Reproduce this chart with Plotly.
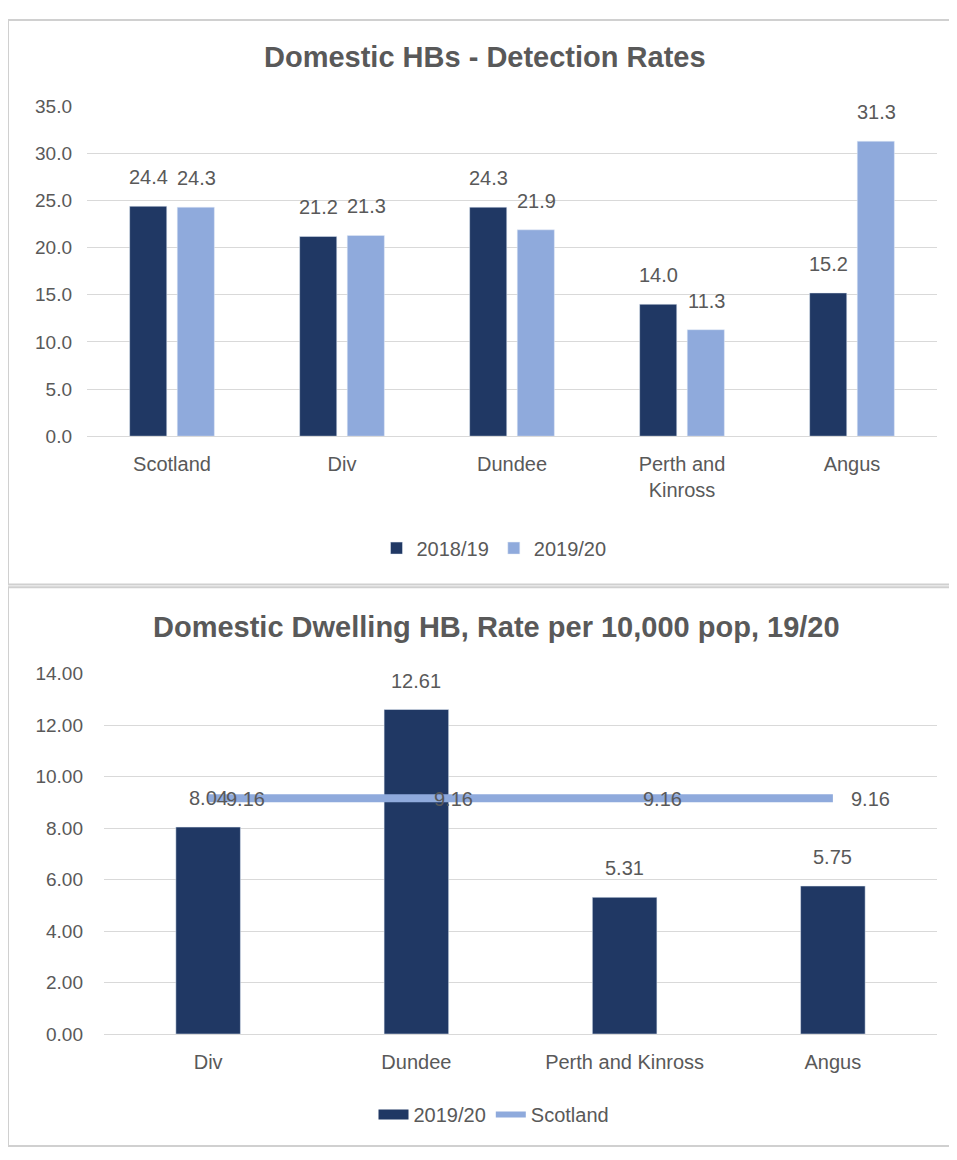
import plotly.graph_objects as go

# ---- data ----
top_categories = ["Scotland", "Div", "Dundee", "Perth and Kinross", "Angus"]
top_ticktext = ["Scotland", "Div", "Dundee", "Perth and<br>Kinross", "Angus"]
rates_1819 = [24.4, 21.2, 24.3, 14.0, 15.2]
rates_1920 = [24.3, 21.3, 21.9, 11.3, 31.3]

bot_categories = ["Div", "Dundee", "Perth and Kinross", "Angus"]
rate_per_10k = [8.04, 12.61, 5.31, 5.75]
scotland_rate = [9.16, 9.16, 9.16, 9.16]

# page body has an 8px margin, so the figure is sized to fill the window exactly
OFF = 8
W, H = 957 - 2 * OFF, 1160 - 2 * OFF
def py(p):
    return 1 - (p - OFF) / H
def px(p):
    return (p - OFF) / W

DARK = "#203864"
LIGHT = "#8FAADC"
TXT = "#595959"
GRID = "#D9D9D9"
FONT = "Liberation Sans, Arial, sans-serif"

fig = go.Figure()

fig.add_trace(go.Bar(x=top_categories, y=rates_1819, name="2018/19", marker_color=DARK,
                     xaxis="x", yaxis="y", legend="legend"))
fig.add_trace(go.Bar(x=top_categories, y=rates_1920, name="2019/20", marker_color=LIGHT,
                     xaxis="x", yaxis="y", legend="legend"))

fig.add_trace(go.Bar(x=bot_categories, y=rate_per_10k, name="2019/20", marker_color=DARK,
                     width=0.31, xaxis="x2", yaxis="y2", showlegend=False))
fig.add_trace(go.Scatter(x=bot_categories, y=scotland_rate, name="Scotland", mode="lines",
                         line=dict(color=LIGHT, width=8), xaxis="x2", yaxis="y2",
                         showlegend=False))
# legend-only entries for the lower chart
fig.add_trace(go.Scatter(x=[None], y=[None], name="2019/20", mode="lines",
                         line=dict(color=DARK, width=13), xaxis="x2", yaxis="y2", legend="legend2"))
fig.add_trace(go.Scatter(x=[None], y=[None], name="Scotland", mode="lines",
                         line=dict(color=LIGHT, width=6), xaxis="x2", yaxis="y2", legend="legend2"))

LBL = dict(size=20, color=TXT, family=FONT)
annotations = []
# top bar labels
for vals, shift in ((rates_1819, -24), (rates_1920, 24)):
    for c, v in zip(top_categories, vals):
        annotations.append(dict(x=c, y=v, xref="x", yref="y", text=f"{v:.1f}", showarrow=False,
                                yanchor="bottom", yshift=16, xshift=shift, font=LBL))
# bottom bar labels
for c, v in zip(bot_categories, rate_per_10k):
    annotations.append(dict(x=c, y=v, xref="x2", yref="y2", text=f"{v:.2f}", showarrow=False,
                            yanchor="bottom", yshift=16, font=LBL))
# line labels
for c, v in zip(bot_categories, scotland_rate):
    annotations.append(dict(x=c, y=v, xref="x2", yref="y2", text=f"{v:.2f}", showarrow=False,
                            xanchor="left", xshift=16, yshift=-1, font=LBL))
# titles
annotations.append(dict(x=px(485), y=py(48), xref="paper", yref="paper",
                        text="<b>Domestic HBs - Detection Rates</b>", showarrow=False,
                        xanchor="center", yanchor="middle",
                        font=dict(size=29, color=TXT, family=FONT)))
annotations.append(dict(x=px(496), y=py(628), xref="paper", yref="paper",
                        text="<b>Domestic Dwelling HB, Rate per 10,000 pop, 19/20</b>", showarrow=False,
                        xanchor="center", yanchor="middle",
                        font=dict(size=29, color=TXT, family=FONT)))

shapes = [
    dict(type="rect", xref="paper", yref="paper", x0=px(8), x1=px(955), y0=py(585), y1=py(10),
         line=dict(color="#D0D0D0", width=2), fillcolor="rgba(0,0,0,0)", layer="below"),
    dict(type="rect", xref="paper", yref="paper", x0=px(8), x1=px(955), y0=py(1157), y1=py(588),
         line=dict(color="#D0D0D0", width=2), fillcolor="rgba(0,0,0,0)", layer="below"),
]

tick_font = dict(size=19, color=TXT, family=FONT)
cat_font = dict(size=20, color=TXT, family=FONT)

fig.update_layout(
    width=W, height=H,
    margin=dict(l=0, r=0, t=0, b=0),
    paper_bgcolor="white", plot_bgcolor="white",
    barmode="group", bargap=0.44, bargroupgap=0.22,
    font=dict(family=FONT, color=TXT),
    xaxis=dict(domain=[px(87), px(937)], anchor="y", type="category",
               tickmode="array", tickvals=top_categories, ticktext=top_ticktext,
               tickfont=cat_font, showgrid=False, showline=True, linecolor=GRID, linewidth=1,
               ticks="", ticklabelstandoff=10),
    yaxis=dict(domain=[py(434), py(98)], anchor="x", range=[0, 35], dtick=5, tickformat=".1f",
               tickfont=tick_font, showgrid=True, gridcolor=GRID, gridwidth=1,
               zeroline=False, showline=False, ticks="", ticklabelstandoff=14),
    xaxis2=dict(domain=[px(104), px(937)], anchor="y2", type="category",
                tickfont=cat_font, showgrid=False, showline=True, linecolor=GRID, linewidth=1,
                ticks="", ticklabelstandoff=10),
    yaxis2=dict(domain=[py(1043), py(676)], anchor="x2", range=[0, 14], dtick=2, tickformat=".2f",
                tickfont=tick_font, showgrid=True, gridcolor=GRID, gridwidth=1,
                zeroline=False, showline=False, ticks="", ticklabelstandoff=20),
    legend=dict(orientation="h", x=px(494), y=py(548), xanchor="center", yanchor="middle",
                font=dict(size=20, color=TXT, family=FONT), bgcolor="rgba(0,0,0,0)"),
    legend2=dict(orientation="h", x=px(494), y=py(1125), xanchor="center", yanchor="middle",
                 font=dict(size=20, color=TXT, family=FONT), bgcolor="rgba(0,0,0,0)"),
    annotations=annotations,
    shapes=shapes,
)

fig.write_html("out.html")
